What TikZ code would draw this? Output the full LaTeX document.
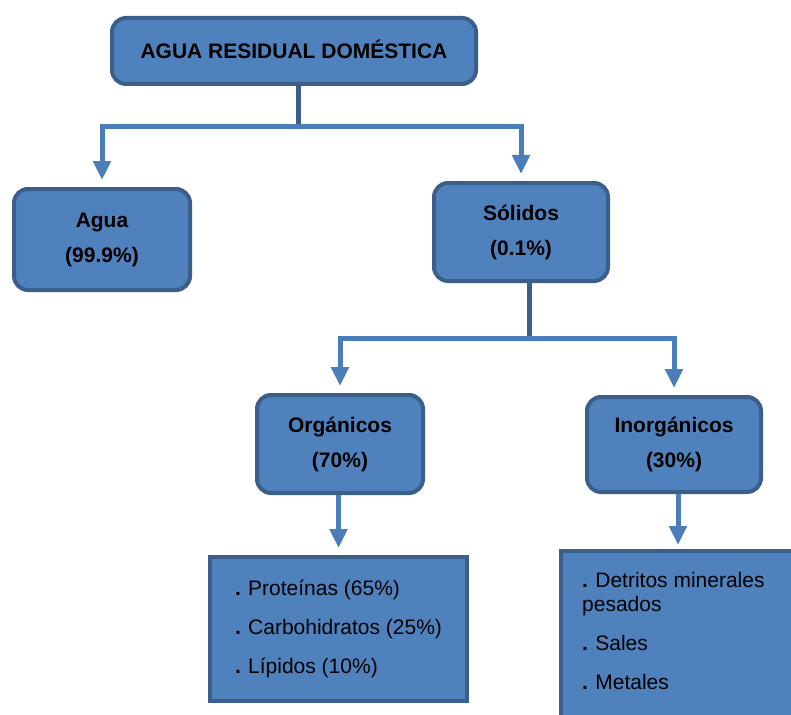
\documentclass[tikz,border=0pt]{standalone}
\usepackage{fontspec}
\setmainfont{Liberation Sans}
\usetikzlibrary{arrows.meta,calc}
\definecolor{boxfill}{HTML}{4F81BD}
\definecolor{boxline}{HTML}{3A5F8B}
\definecolor{linelight}{HTML}{4A7EBB}
\definecolor{linedark}{HTML}{3A5F8B}
\newcommand{\bul}{\textbf{.}\hspace{0.35em}}
\begin{document}
\begin{tikzpicture}[x=1pt,y=-1pt,
 titlebox/.style={draw=boxline, fill=boxfill, line width=4pt, rounded corners=14pt, align=center, font=\fontsize{21}{35}\selectfont\bfseries, inner sep=0pt},
 listbox/.style={draw=boxline, fill=boxfill, line width=4pt, align=left, font=\fontsize{21}{24}\selectfont, inner sep=0pt},
 listtext/.style={align=left, font=\fontsize{21}{24}\selectfont, inner sep=0pt},
 stem/.style={draw=linedark, line width=5pt},
 conn/.style={draw=linelight, line width=5pt, -{Triangle[width=17pt,length=19pt]}, shorten >=7pt}
]
\clip (0,0) rectangle (791,714);
\node[titlebox, minimum width=364pt, minimum height=66pt] (top) at (294,51) {\raisebox{4pt}{AGUA RESIDUAL DOMÉSTICA}};
\node[titlebox, minimum width=176pt, minimum height=101pt] (agua) at (102,239.5) {Agua\\(99.9\%)};
\node[titlebox, minimum width=174pt, minimum height=98pt] (solidos) at (521,232) {Sólidos\\(0.1\%)};
\node[titlebox, minimum width=166pt, minimum height=98pt] (org) at (340,444) {Orgánicos\\(70\%)};
\node[titlebox, minimum width=174pt, minimum height=95pt] (inorg) at (674,444.5) {Inorgánicos\\(30\%)};
\node[listbox, minimum width=257pt, minimum height=144pt] (list1) at (338.5,629) {\bul Proteínas (65\%)\\[15pt]\bul Carbohidratos (25\%)\\[15pt]\bul Lípidos (10\%)};
\node[listbox, anchor=north west, minimum width=245pt, minimum height=185pt] (list2) at (559,549) {};
\node[listtext, anchor=north west] (list2txt) at (582,572) {\bul Detritos minerales\\pesados\\[15pt]\bul Sales\\[15pt]\bul Metales};
\coordinate (j1) at (298,127);
\coordinate (j2) at (529,338);
\coordinate (k) at (678,549);
\draw[stem] (top.south -| j1) -- (j1);
\draw[stem] (solidos.south -| j2) -- (j2);
\draw[conn] (j1) -| (agua.north);
\draw[conn] (j1) -| (solidos.north);
\draw[conn] (j2) -| (org.north);
\draw[conn] (j2) -| (inorg.north);
\draw[conn] (org.south -| list1.north) -- (list1.north);
\draw[conn, shorten >=4pt] (inorg.south -| k) -- (k);
\end{tikzpicture}
\end{document}
